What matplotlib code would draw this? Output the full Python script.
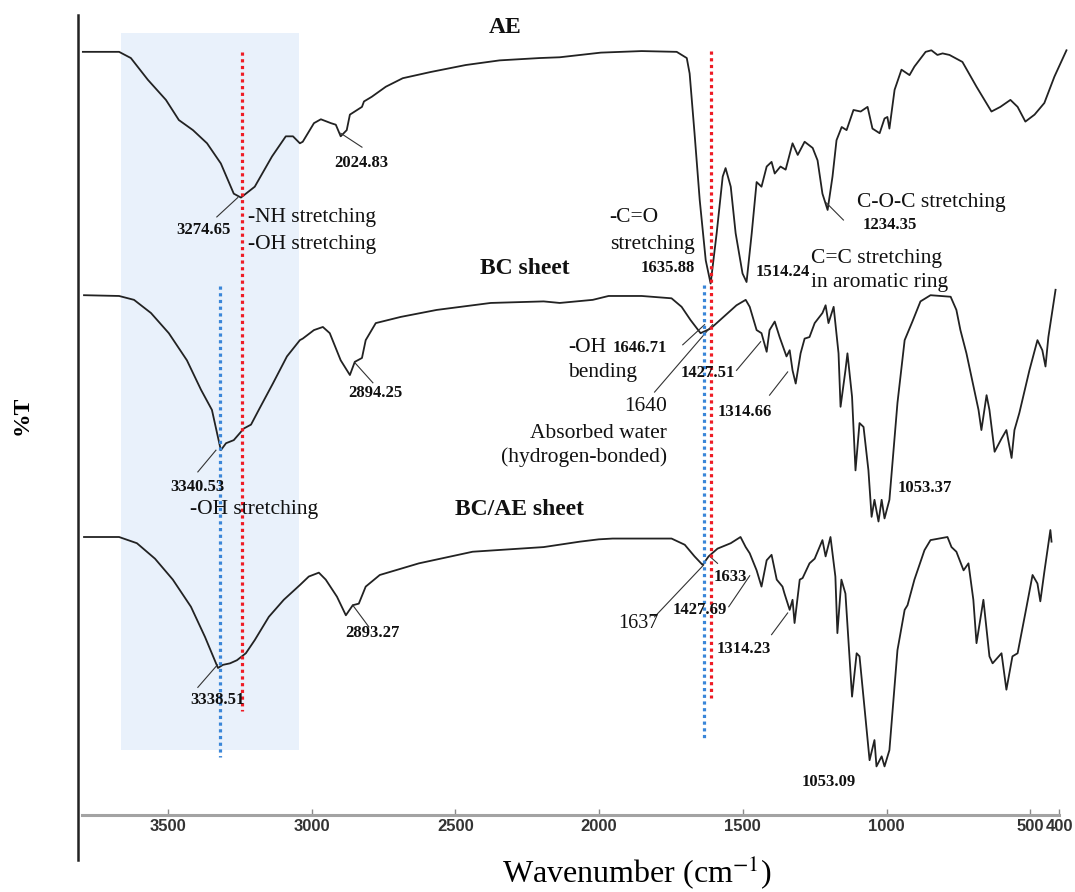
import matplotlib
matplotlib.use("Agg")
import matplotlib.pyplot as plt
from matplotlib.lines import Line2D
from matplotlib.patches import Rectangle

plt.rcParams['font.family'] = ['Liberation Serif', 'DejaVu Serif']
plt.rcParams['mathtext.fontset'] = 'stix'

# ---------------- data (wavenumber cm-1, %T in stacked display units) ----------------
ae_wn = [3796, 3670, 3629, 3570, 3507, 3462, 3413, 3364, 3316, 3271, 3246, 3198, 3138, 3090,
         3065, 3041, 3031, 2992, 2968, 2933, 2916, 2899, 2878, 2867, 2825, 2818, 2791, 2742,
         2683, 2586, 2464, 2346, 2207, 2137, 1994, 1852, 1730, 1695, 1685, 1668, 1650, 1629,
         1612, 1591, 1570, 1560, 1542, 1525, 1501, 1487, 1469, 1452, 1435, 1417, 1400, 1389,
         1369, 1351, 1327, 1309, 1285, 1257, 1240, 1223, 1205, 1188, 1174, 1156, 1139, 1115,
         1090, 1066, 1049, 1024, 1007, 997, 990, 972, 948, 920, 903, 864, 844, 823, 805, 781,
         736, 687, 635, 604, 569, 544, 517, 485, 451, 416, 374]
ae_t = [94.6, 94.6, 93.8, 91.0, 88.4, 85.8, 84.5, 82.8, 80.2, 76.3, 75.8, 77.2, 81.1, 83.7,
        83.7, 82.8, 83.0, 85.4, 85.9, 85.4, 85.2, 83.7, 84.5, 86.5, 87.5, 88.2, 88.8, 90.1,
        91.2, 92.0, 92.9, 93.5, 93.8, 93.9, 94.5, 94.7, 94.6, 93.8, 91.8, 84.1, 75.5, 67.7,
        64.7, 71.2, 78.5, 79.6, 77.2, 71.2, 66.0, 64.9, 71.2, 77.8, 77.2, 79.8, 80.4, 78.9,
        79.8, 79.4, 82.8, 81.3, 83.0, 82.2, 80.6, 76.3, 74.2, 78.5, 83.2, 84.9, 84.5, 87.1,
        86.9, 87.5, 84.7, 84.1, 86.0, 86.2, 84.7, 89.7, 92.3, 91.6, 92.7, 94.6, 94.8, 94.2, 94.4, 94.2,
        93.3, 90.1, 86.9, 87.5, 88.4, 87.5, 85.6, 86.5, 88.0, 91.4, 94.8]

bc_wn = [3792, 3670, 3618, 3559, 3497, 3434, 3385, 3347, 3316, 3298, 3271, 3236, 3211, 3184,
         3135, 3086, 3041, 3031, 2992, 2961, 2937, 2899, 2867, 2850, 2825, 2812, 2777, 2690,
         2565, 2377, 2193, 2137, 2022, 1967, 1852, 1748, 1713, 1682, 1647, 1612, 1567, 1522,
         1490, 1476, 1452, 1435, 1417, 1407, 1389, 1372, 1348, 1337, 1327, 1316, 1299, 1285,
         1268, 1250, 1223, 1212, 1202, 1184, 1167, 1160, 1143, 1136, 1120, 1108, 1094, 1080,
         1063, 1052, 1042, 1028, 1017, 1007, 990, 962, 937, 910, 882, 847, 777, 757, 743, 722,
         680, 670, 652, 642, 624, 600, 583, 565, 555, 538, 503, 475, 458, 447, 437, 412]
bc_t = [63.2, 63.1, 62.6, 60.9, 58.3, 54.8, 51.0, 48.4, 43.2, 44.1, 44.5, 46.0, 46.5, 48.4,
        51.8, 55.3, 57.4, 57.6, 58.7, 59.1, 58.3, 54.8, 52.9, 54.6, 55.1, 57.4, 59.6, 60.4,
        61.3, 62.2, 62.4, 62.2, 62.6, 63.1, 63.1, 62.8, 61.7, 60.0, 58.3, 58.9, 60.4, 61.9,
        62.6, 61.7, 58.7, 58.3, 55.9, 58.7, 59.8, 57.8, 55.3, 56.1, 53.5, 51.8, 55.7, 57.6,
        57.8, 59.6, 60.9, 61.9, 59.6, 61.7, 55.7, 48.8, 53.5, 55.7, 50.1, 40.6, 46.7, 46.2,
        40.6, 34.6, 36.8, 34.0, 36.8, 34.4, 36.8, 49.3, 57.4, 59.8, 62.4, 63.2, 63.0, 61.3, 58.7, 55.7,
        48.4, 45.8, 50.3, 48.4, 43.0, 44.7, 45.8, 42.2, 45.8, 48.0, 53.5, 57.4, 56.1, 54.0, 57.8, 63.9]

bcae_wn = [3792, 3670, 3608, 3545, 3483, 3420, 3371, 3326, 3309, 3284, 3260, 3229, 3198, 3149,
           3097, 3041, 3010, 2975, 2951, 2912, 2881, 2857, 2836, 2812, 2763, 2627, 2440, 2193,
           2067, 2001, 1953, 1852, 1748, 1702, 1668, 1640, 1619, 1588, 1542, 1508, 1490, 1476,
           1452, 1435, 1417, 1400, 1382, 1362, 1355, 1337, 1327, 1320, 1302, 1292, 1268, 1250,
           1223, 1212, 1195, 1178, 1171, 1157, 1143, 1120, 1104, 1094, 1077, 1059, 1042, 1035,
           1017, 1007, 990, 962, 937, 927, 903, 868, 847, 788, 774, 757, 732, 715, 698, 687, 663,
           642, 631, 600, 583, 562, 544, 517, 492, 475, 465, 451, 430, 426]
bcae_t = [32.0, 32.0, 31.2, 29.2, 26.5, 23.0, 19.1, 15.1, 15.5, 15.7, 16.1, 17.0, 18.7, 21.7,
          23.9, 25.8, 26.9, 27.4, 26.5, 24.3, 21.9, 23.2, 23.4, 25.6, 27.1, 28.6, 30.1, 30.7,
          31.4, 31.7, 31.8, 31.8, 31.8, 31.0, 29.5, 28.4, 29.5, 30.5, 31.2, 32.0, 30.7, 29.9,
          27.7, 25.6, 29.0, 29.7, 26.5, 25.6, 24.7, 22.6, 23.9, 20.9, 26.5, 26.7, 28.6, 29.2,
          31.6, 29.5, 32.0, 26.9, 19.6, 26.5, 24.7, 11.4, 17.0, 16.6, 10.1, 3.2, 5.8, 2.4,
          3.7, 2.4, 4.5, 17.4, 22.6, 23.2, 26.5, 30.3, 31.6, 32.0, 30.7, 30.1, 27.7, 28.6, 23.9, 18.3, 23.9,
          16.6, 15.7, 17.0, 12.3, 16.6, 17.0, 22.2, 27.1, 26.0, 23.7, 27.5, 32.9, 31.4]

xtick_vals = [3500, 3000, 2500, 2000, 1500, 1000, 500, 400]
xtick_labels = ['3500', '3000', '2500', '2000', '1500', '1000', '500', '400']

# ---------------- figure ----------------
W, H = 1075, 892
fig = plt.figure(figsize=(W / 100, H / 100), dpi=100)
ax = fig.add_axes([82 / W, 1 - 815 / H, (1059 - 82) / W, 815 / H])
ax.set_xlim(3799, 400)
ax.set_ylim(-3.87, 101.29)
ax.patch.set_alpha(0)

for s in ['top', 'right', 'left']:
    ax.spines[s].set_visible(False)
ax.spines['bottom'].set_color('#a3a3a3')
ax.spines['bottom'].set_linewidth(2.2)
ax.set_yticks([])
ax.set_xticks(xtick_vals)
ax.set_xticklabels(xtick_labels, fontfamily='Liberation Sans', fontweight='bold')
ax.tick_params(axis='x', direction='in', length=4, width=1, color='#8a8a8a',
               pad=3, labelsize=12, labelcolor='#333333')

# shaded region
ax.add_patch(Rectangle((3663, 4.5), 3045 - 3663, 97.0 - 4.5, facecolor='#E9F1FB',
                       edgecolor='none', zorder=0))

# spectra
for xs, ys in [(ae_wn, ae_t), (bc_wn, bc_t), (bcae_wn, bcae_t)]:
    ax.plot(xs, ys, color='#222222', lw=1.3, solid_joinstyle='round', zorder=2, clip_on=False)

# dotted reference lines
dot = (0, (1, 1.1))
ax.plot([3243, 3243], [94.6, 9.5], color='#EE1C25', lw=2.3, ls=dot, zorder=4, dash_capstyle='butt')
ax.plot([3318, 3318], [64.4, 3.6], color='#3A86D8', lw=2.3, ls=dot, zorder=4, dash_capstyle='butt')
ax.plot([1612, 1612], [94.7, 11.2], color='#EE1C25', lw=2.3, ls=dot, zorder=4, dash_capstyle='butt')
ax.plot([1636, 1636], [64.5, 5.8], color='#3A86D8', lw=2.3, ls=dot, zorder=4, dash_capstyle='butt')

FS_R, FS_B, FS_T = 15.5, 12, 17


def reg(x, y, s, ha='left', size=FS_R):
    ax.text(x, y, s, fontsize=size, ha=ha, va='center', color='#111111', zorder=5)


def num(x, y, s, ha='center'):
    ax.text(x, y, s, fontsize=FS_B, fontweight='bold', ha=ha, va='center', color='#111111', zorder=5)


def title(x, y, s):
    ax.text(x, y, s, fontsize=FS_T, fontweight='bold', ha='center', va='center', color='#111111', zorder=5)


def lead(x1, y1, x2, y2):
    ax.plot([x1, x2], [y1, y2], color='#333333', lw=0.8, zorder=3)


# AE
title(2328, 97.8, 'AE')
reg(3222, 73.2, '-NH stretching')
reg(3222, 69.7, '-OH stretching')
num(3378, 71.6, '3274.65'); lead(3330, 73.3, 3257, 75.8)
num(2829, 80.3, '2024.83'); lead(2899, 84.1, 2825, 82.3)
reg(1963, 73.2, '-C=O')
reg(1963, 69.7, 'stretching')
num(1668, 66.7, '1635.88', ha='right')
num(1456, 66.2, '1514.24', ha='left')
reg(1104, 75.2, 'C-O-C stretching')
num(1084, 72.3, '1234.35', ha='left'); lead(1209, 75.1, 1150, 72.9)
reg(1264, 68.0, 'C=C stretching')
reg(1264, 64.8, 'in aromatic ring')

# BC sheet
title(2259, 66.7, 'BC sheet')
num(3396, 38.5, '3340.53'); lead(3396, 40.4, 3333, 43.2)
reg(3201, 35.5, '-OH stretching', ha='center')
num(2777, 50.6, '2894.25'); lead(2850, 54.5, 2787, 51.9)
reg(2109, 56.4, '-OH')
num(1953, 56.4, '1646.71', ha='left'); lead(1709, 56.8, 1633, 59.4)
reg(2109, 53.2, 'bending')
reg(1765, 48.8, '1640', ha='right')
reg(1765, 45.4, 'Absorbed water', ha='right')
reg(1765, 42.3, '(hydrogen-bonded)', ha='right')
lead(1807, 50.7, 1605, 59.4)
num(1622, 53.2, '1427.51'); lead(1522, 53.5, 1438, 57.2)
num(1494, 48.1, '1314.66'); lead(1407, 50.3, 1344, 53.3)
num(962, 38.3, '1053.37', ha='left')

# BC/AE sheet
title(2276, 35.6, 'BC/AE sheet')
num(3328, 11.0, '3338.51'); lead(3396, 12.6, 3328, 15.5)
num(2787, 19.6, '2893.27'); lead(2857, 23.2, 2801, 20.4)
reg(1862, 20.9, '1637', ha='center', size=14.5); lead(1807, 21.7, 1636, 28.4)
num(1602, 26.8, '1633', ha='left'); lead(1612, 29.4, 1588, 28.6)
num(1650, 22.6, '1427.69'); lead(1549, 23.0, 1476, 27.0)
num(1497, 17.5, '1314.23'); lead(1400, 19.4, 1344, 22.2)
num(1202, 0.4, '1053.09')

# left vertical axis line, axis titles
fig.add_artist(Line2D([78 / W, 78 / W], [1 - 15 / H, 1 - 860 / H], color='#222222', lw=1.8))
fig.text(22 / W, 1 - 415 / H, '%T', rotation=90, fontsize=17, fontweight='bold',
         ha='center', va='center')
fig.text(637 / W, 1 - 872 / H, 'Wavenumber (cm$^{-1}$)', fontsize=23, ha='center', va='center')

fig.savefig('out.png', dpi=100)
